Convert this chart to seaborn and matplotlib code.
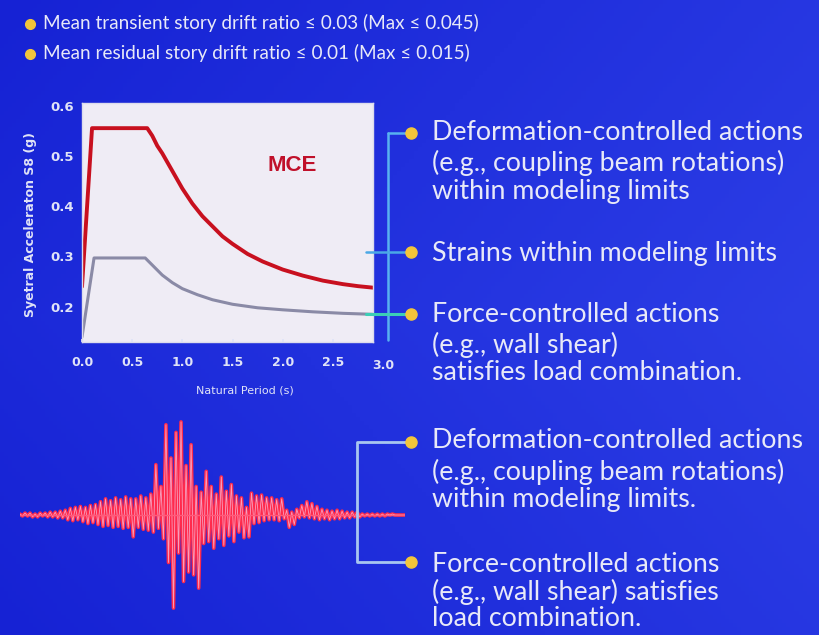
import numpy as np
import seaborn as sns
import matplotlib.pyplot as plt

# ---------------------------------------------
# Data
# ---------------------------------------------
mce_period = [0.0, 0.1, 0.65, 0.7, 0.75, 0.8, 0.9, 1.0, 1.1, 1.2, 1.3, 1.4, 1.5,
              1.65, 1.8, 2.0, 2.2, 2.4, 2.6, 2.75, 2.9]
mce_sa = [0.24, 0.555, 0.555, 0.54, 0.52, 0.505, 0.47, 0.435, 0.405, 0.38, 0.36,
          0.34, 0.325, 0.305, 0.29, 0.274, 0.262, 0.252, 0.245, 0.241, 0.238]

dbe_period = [0.0, 0.12, 0.63, 0.7, 0.8, 0.9, 1.0, 1.15, 1.3, 1.5, 1.75, 2.0,
              2.3, 2.6, 2.9]
dbe_sa = [0.14, 0.297, 0.297, 0.283, 0.263, 0.248, 0.236, 0.224, 0.214, 0.205,
          0.198, 0.194, 0.19, 0.187, 0.185]

x_ticks = [0.0, 0.5, 1.0, 1.5, 2.0, 2.5, 3.0]
y_ticks = [0.2, 0.3, 0.4, 0.5, 0.6]

# ground motion record (normalised acceleration), one value per sample
quake_acc = [
    0.01, -0.01, 0.02, -0.01, 0.02, -0.02, 0.01, -0.02, 0.02, -0.01, 0.02, -0.02,
    0.03, -0.02, 0.03, -0.03, 0.04, -0.03,
    0.05, -0.05, 0.07, -0.06, 0.08, -0.05, 0.09, -0.07, 0.08, -0.09, 0.10, -0.08,
    0.11, -0.10,
    0.14, -0.12, 0.17, -0.11, 0.15, -0.13, 0.18, -0.12, 0.16, -0.14, 0.19, -0.13,
    0.17, -0.23, 0.17, -0.13, 0.20, -0.15, 0.18, -0.16,
    0.22, -0.18, 0.53, -0.14, 0.30, -0.25, 0.95, -0.50, 0.60, -0.98, 0.87, -0.40,
    0.98, -0.70, 0.52, -0.60, 0.74, -0.63, 0.30, -0.77, 0.24, -0.30, 0.46, -0.28,
    0.30, -0.35, 0.22, -0.25, 0.40, -0.32, 0.25, -0.22, 0.32, -0.28, 0.20, -0.18,
    0.18, -0.24, 0.08, -0.23,
    0.23, -0.09, 0.20, -0.08, 0.21, -0.06, 0.18, -0.05, 0.18, -0.05, 0.16, -0.06,
    0.17,
    -0.04, 0.05, -0.13, 0.03, -0.10, 0.06,
    -0.03, 0.10, -0.02, 0.14, -0.03, 0.12, -0.04, 0.09,
    -0.05, 0.06, -0.04, 0.05, -0.05, 0.04, -0.04, 0.05, -0.04,
    0.04, -0.03, 0.03, -0.03, 0.03, -0.02, 0.03, -0.02,
    0.01, -0.01, 0.01, -0.01, 0.01, -0.01, 0.01, -0.01, 0.01, -0.01, 0.01, 0.00,
    0.01, 0.00, 0.00, 0.00, 0.00, 0.00,
]
quake_dt = 0.02

top_bullets = [
    "Mean transient story drift ratio \u2264 0.03 (Max \u2264 0.045)",
    "Mean residual story drift ratio \u2264 0.01 (Max \u2264 0.015)",
]
upper_notes = [
    ["Deformation-controlled actions", "(e.g., coupling beam rotations)",
     "within modeling limits"],
    ["Strains within modeling limits"],
    ["Force-controlled actions", "(e.g., wall shear)",
     "satisfies load combination."],
]
lower_notes = [
    ["Deformation-controlled actions", "(e.g., coupling beam rotations)",
     "within modeling limits."],
    ["Force-controlled actions", "(e.g., wall shear) satisfies",
     "load combination."],
]

# ---------------------------------------------
# Styling
# ---------------------------------------------
W, H = 819, 635
TXT = "#e8e9f8"
TICK = "#e0e3f7"
DOT = "#f3c53a"
sns.set_theme(style="white")
plt.rcParams["font.family"] = ["Lato", "DejaVu Sans"]


def box(x0, y0, x1, y1):
    """pixel box (top-left origin) -> figure fraction rect"""
    return [x0 / W, 1 - y1 / H, (x1 - x0) / W, (y1 - y0) / H]


fig = plt.figure(figsize=(W / 100, H / 100), dpi=100)

# blue slide background
bg = fig.add_axes([0, 0, 1, 1])
gx, gy = np.meshgrid(np.linspace(0, 1, 200), np.linspace(0, 1, 160))
c_left = np.array([22, 34, 212]) / 255
c_right = np.array([44, 62, 230]) / 255
mix = np.clip(0.75 * gx + 0.25 * (1 - np.abs(gy - 0.5) * 2), 0, 1)
bg.imshow(c_left + (c_right - c_left) * mix[..., None], aspect="auto",
          extent=[0, 1, 0, 1])
bg.axis("off")

# response spectrum
ax = fig.add_axes(box(82, 103, 373, 342))
ax.set_facecolor("#efecf5")
sns.lineplot(x=dbe_period, y=dbe_sa, ax=ax, color="#8a8aa6", linewidth=2.2,
             estimator=None, sort=False)
sns.lineplot(x=mce_period, y=mce_sa, ax=ax, color="#c8101f", linewidth=2.8,
             estimator=None, sort=False)
ax.set_xlim(0, 2.9)
ax.set_ylim(0.13, 0.605)
ax.set_xticks(x_ticks[:-1])
ax.set_xticklabels([f"{t:.1f}" for t in x_ticks[:-1]])
ax.set_yticks(y_ticks)
ax.set_yticklabels([f"{t:.1f}" for t in y_ticks])
ax.tick_params(axis="x", colors=TICK, labelsize=9, pad=10, length=2,
               direction="in", bottom=True)
ax.tick_params(axis="y", colors=TICK, labelsize=9.5, pad=6, length=0)
for lab in ax.get_xticklabels() + ax.get_yticklabels():
    lab.set_family("DejaVu Sans")
    lab.set_fontweight("bold")
ax.annotate(f"{x_ticks[-1]:.1f}", xy=(x_ticks[-1], 0), xycoords=ax.get_xaxis_transform(),
            xytext=(0, -12), textcoords="offset points", ha="center", va="top",
            color=TICK, fontsize=9, fontweight="bold", family="DejaVu Sans",
            annotation_clip=False)
for sp in ax.spines.values():
    sp.set_color("#dcdcec")
    sp.set_linewidth(1)
ax.set_xlabel("Natural Period (s)", color=TICK, fontsize=8,
              family="DejaVu Sans")
ax.xaxis.set_label_coords(0.56, -0.18)
ax.set_ylabel("Syetral Acceleraton S8 (g)", color=TICK, fontsize=9,
              fontweight="bold", family="DejaVu Sans")
ax.yaxis.set_label_coords(-0.155, 0.49)
ax.text(2.09, 0.48, "MCE", color="#c0102a", fontsize=16, fontweight="bold",
        family="Liberation Sans", ha="center", va="center")

# ground motion trace
axq = fig.add_axes(box(20, 420, 405, 610))
quake_t = np.arange(len(quake_acc)) * quake_dt
axq.fill_between(quake_t, quake_acc, 0, color="#ff2a4c", linewidth=0)
sns.lineplot(x=quake_t, y=quake_acc, ax=axq, color="#ff2a4c", linewidth=2.6,
             estimator=None, sort=False)
sns.lineplot(x=quake_t, y=quake_acc, ax=axq, color="#f6b4d4", linewidth=0.6,
             alpha=0.85, estimator=None, sort=False)
axq.axhline(0, color="#ff5a7a", linewidth=1.0)
axq.set_xlim(quake_t[0], quake_t[-1])
axq.set_ylim(-1.0, 1.0)
axq.axis("off")

# overlay: bullets, connectors, notes (pixel coordinates)
ov = fig.add_axes([0, 0, 1, 1])
ov.set_xlim(0, W)
ov.set_ylim(H, 0)
ov.axis("off")
ov.patch.set_alpha(0)

for i, line in enumerate(top_bullets):
    y = 23 + 30 * i
    ov.plot(30, y + 1, "o", color=DOT, markersize=7)
    ov.text(43, y, line, color=TXT, fontsize=13.6, va="center", ha="left")

# upper connectors
ov.plot([388, 388], [133, 340], color="#58b2f0", linewidth=1.8)
ov.plot([388, 410], [133, 133], color="#58b2f0", linewidth=1.8)
ov.plot([366, 410], [252, 252], color="#4aa8e6", linewidth=1.8)
ov.plot([366, 410], [314, 314], color="#3ccfb6", linewidth=2.2)
for y in [133, 252, 314]:
    ov.plot(411, y, "o", color=DOT, markersize=8)

upper_y = [[132, 163, 192], [253], [315, 345, 373]]
for block, ys in zip(upper_notes, upper_y):
    for line, y in zip(block, ys):
        ov.text(432, y, line, color=TXT, fontsize=19.3, va="center", ha="left")

# lower bracket
ov.plot([410, 357, 357, 410], [442, 442, 562, 562], color="#a8c6f0",
        linewidth=2.0)
for y in [442, 562]:
    ov.plot(411, y, "o", color=DOT, markersize=8)

lower_y = [[440, 472, 500], [565, 592, 618]]
for block, ys in zip(lower_notes, lower_y):
    for line, y in zip(block, ys):
        ov.text(432, y, line, color=TXT, fontsize=19.3, va="center", ha="left")

fig.savefig("out.png", dpi=100)
